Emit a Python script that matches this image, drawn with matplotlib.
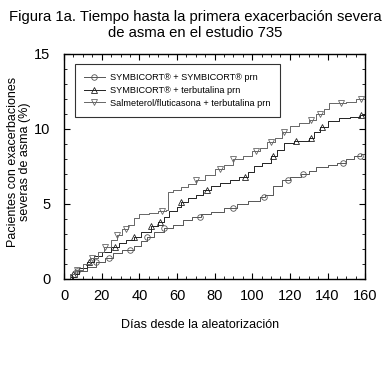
import matplotlib
matplotlib.use('Agg')
import matplotlib.pyplot as plt
from matplotlib.lines import Line2D
from matplotlib.ticker import MultipleLocator

plt.rcParams['font.family'] = ['Liberation Sans', 'DejaVu Sans']

# --- datos (dias, % acumulado) ---
dias_smart = [0, 3, 7, 12, 17, 22, 26, 31, 37, 41, 44, 48, 53, 58, 63, 68, 73, 78, 85,
              92, 98, 104, 107, 111, 116, 120, 126, 130, 134, 140, 145, 150, 154, 158, 160]
pct_smart = [0, 0.15, 0.5, 0.8, 1.15, 1.4, 1.7, 1.95, 2.2, 2.5, 2.8, 3.1, 3.4, 3.6, 3.9,
             4.1, 4.3, 4.45, 4.7, 5.0, 5.2, 5.45, 5.6, 6.2, 6.6, 6.8, 7.0, 7.2, 7.45, 7.6,
             7.75, 8.0, 8.2, 8.33, 8.33]
marcas_smart = [7, 17, 24, 35, 44, 53, 72, 90, 106, 119, 127, 148, 157]

dias_terb = [0, 4, 8, 12, 16, 20, 25, 29, 33, 37, 41, 46, 50, 53, 56, 60, 62, 66, 70, 74,
             78, 83, 88, 93, 98, 101, 105, 110, 113, 117, 122, 130, 133, 136, 140, 146,
             152, 157, 160]
pct_terb = [0, 0.3, 0.7, 1.1, 1.5, 1.8, 2.15, 2.4, 2.6, 2.8, 3.1, 3.5, 3.8, 4.15, 4.5,
            4.8, 5.15, 5.4, 5.6, 5.9, 6.2, 6.4, 6.6, 6.8, 7.1, 7.5, 7.7, 8.2, 8.6, 9.05,
            9.2, 9.4, 9.8, 10.1, 10.5, 10.7, 10.8, 10.9, 11.1]
marcas_terb = [5, 13, 27, 37, 46, 51, 62, 76, 96, 111, 123, 131, 137, 158]

dias_salm = [0, 3, 6, 10, 14, 18, 21, 25, 28, 31, 34, 37, 40, 45, 50, 54, 55, 58, 62, 66,
             70, 75, 80, 85, 90, 95, 100, 104, 108, 112, 116, 120, 125, 130, 134, 138,
             141, 150, 155, 160]
pct_salm = [0, 0.3, 0.6, 1.0, 1.4, 1.8, 2.15, 2.6, 2.95, 3.35, 3.6, 4.05, 4.3, 4.4, 4.5,
            4.6, 5.8, 5.9, 6.1, 6.3, 6.6, 6.9, 7.3, 7.6, 8.0, 8.2, 8.5, 8.7, 9.1, 9.4,
            9.8, 10.2, 10.4, 10.6, 11.0, 11.3, 11.7, 11.8, 12.0, 12.2]
marcas_salm = [7, 15, 22, 28, 33, 52, 70, 83, 90, 102, 110, 117, 131, 136, 147, 158]

series = [
    ("SYMBICORT\u00ae + SYMBICORT\u00ae prn", dias_smart, pct_smart, marcas_smart, 'o', '#555555'),
    ("SYMBICORT\u00ae + terbutalina prn", dias_terb, pct_terb, marcas_terb, '^', '#222222'),
    ("Salmeterol/fluticasona + terbutalina prn", dias_salm, pct_salm, marcas_salm, 'v', '#666666'),
]


def valor_en(dias, pct, x):
    # valor de la curva escalonada en x
    v = pct[0]
    for d, p in zip(dias, pct):
        if d <= x:
            v = p
    return v


fig = plt.figure(figsize=(3.86, 3.67), dpi=100)
ax = fig.add_axes([0.166, 0.240, 0.780, 0.613])

handles = []
for nombre, dias, pct, marcas, mk, col in series:
    ax.step(dias, pct, where='post', color=col, linewidth=0.7)
    ym = [valor_en(dias, pct, m) for m in marcas]
    ax.plot(marcas, ym, linestyle='none', marker=mk, markersize=4,
            markerfacecolor='none', markeredgecolor=col, markeredgewidth=0.6)
    handles.append(Line2D([0], [0], color=col, linewidth=0.7, marker=mk, markersize=4,
                          markerfacecolor='none', markeredgecolor=col,
                          markeredgewidth=0.6, markevery=[0]))

ax.set_xlim(0, 160)
ax.set_ylim(0, 15)
ax.xaxis.set_major_locator(MultipleLocator(20))
ax.xaxis.set_minor_locator(MultipleLocator(5))
ax.yaxis.set_major_locator(MultipleLocator(5))
ax.yaxis.set_minor_locator(MultipleLocator(1))
ax.tick_params(which='both', direction='in', top=True, right=True, labelsize=10.5)
ax.tick_params(axis='y', which='major', pad=10)
ax.tick_params(axis='x', which='major', pad=7)
ax.tick_params(which='major', length=4, width=0.8)
ax.tick_params(which='minor', length=2.5, width=0.6)
for s in ax.spines.values():
    s.set_linewidth(1.0)

leg = ax.legend(handles=handles, labels=[s[0] for s in series], loc='upper left',
                bbox_to_anchor=(0.02, 0.975), fontsize=6.6, frameon=True,
                fancybox=False, edgecolor='black', handlelength=2.3,
                borderpad=1.0, labelspacing=0.4, handletextpad=0.6)
leg.get_frame().set_linewidth(0.8)

ax.set_xlabel("D\u00edas desde la aleatorizaci\u00f3n", fontsize=9)
ax.xaxis.set_label_coords(0.452, -0.18)
ax.set_ylabel("Pacientes con exacerbaciones\nseveras de asma (%)", fontsize=9,
              linespacing=1.0)
ax.yaxis.set_label_coords(-0.11, 0.52)

fig.text(0.505, 0.972, "Figura 1a. Tiempo hasta la primera exacerbaci\u00f3n severa\nde asma en el estudio 735",
         ha='center', va='top', fontsize=10.7, linespacing=1.2)

fig.savefig('out.png', dpi=100)
